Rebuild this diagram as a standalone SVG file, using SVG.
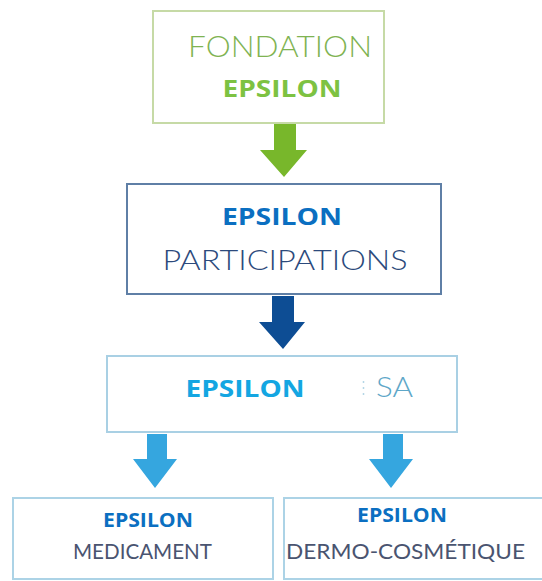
<svg xmlns="http://www.w3.org/2000/svg" width="542" height="581" viewBox="0 0 542 581">
<style>
.bold{font-family:"Open Sans","Liberation Sans",sans-serif;font-weight:700;}
.thin{font-family:Lato,"Open Sans","Liberation Sans",sans-serif;font-weight:300;}
.reg{font-family:Lato,"Open Sans","Liberation Sans",sans-serif;font-weight:400;}
.box{fill:#ffffff;stroke-width:2;}
</style>
<rect x="0" y="0" width="542" height="581" fill="#ffffff"/>
<g id="connectors">
  <path d="M274,124 H296 V150 H307 L284,177 L260,150 H274 Z" fill="#78b72b"/>
  <path d="M272,296 H294 V322 H305 L283,349 L259,322 H272 Z" fill="#0d4d94"/>
  <path d="M147,434 H167 V459 H177 L155,488 L133,459 H147 Z" fill="#35a6df"/>
  <path d="M383,434 H403 V459 H413 L391,488 L369,459 H383 Z" fill="#35a6df"/>
</g>
<g id="fondation">
  <rect class="box" x="153" y="11" width="231" height="112" stroke="#c6daa6"/>
  <text class="thin" x="280" y="57" font-size="29" fill="#7fb352" text-anchor="middle" textLength="184" lengthAdjust="spacingAndGlyphs">FONDATION</text>
  <text class="bold" x="282" y="97" font-size="24" fill="#7dc242" text-anchor="middle" textLength="119" lengthAdjust="spacingAndGlyphs">EPSILON</text>
</g>
<g id="participations">
  <rect class="box" x="127" y="184" width="314" height="110" stroke="#5f7fa6"/>
  <text class="bold" x="282" y="225" font-size="24" fill="#0b6fc1" text-anchor="middle" textLength="120" lengthAdjust="spacingAndGlyphs">EPSILON</text>
  <text class="thin" x="285" y="270" font-size="28" fill="#2c4a7c" text-anchor="middle" textLength="245" lengthAdjust="spacingAndGlyphs">PARTICIPATIONS</text>
</g>
<g id="sa">
  <rect class="box" x="107" y="356" width="350" height="76" stroke="#a9d0e4"/>
  <text class="bold" x="245" y="397" font-size="24" fill="#14a6e2" text-anchor="middle" textLength="119" lengthAdjust="spacingAndGlyphs">EPSILON</text>
  <line x1="363.5" y1="381" x2="363.5" y2="399" stroke="#b5d6e6" stroke-width="1.5" stroke-dasharray="2,4"/>
  <text class="thin" x="376" y="397" font-size="27" fill="#5ea7c8" textLength="37" lengthAdjust="spacingAndGlyphs">SA</text>
</g>
<g id="medicament">
  <rect class="box" x="13" y="498" width="260" height="81" stroke="#acd3e6"/>
  <text class="bold" x="148" y="527" font-size="19" fill="#0b6fc1" text-anchor="middle" textLength="90" lengthAdjust="spacingAndGlyphs">EPSILON</text>
  <text class="reg" x="142.5" y="559" font-size="22" fill="#4a5470" text-anchor="middle" textLength="139" lengthAdjust="spacingAndGlyphs">MEDICAMENT</text>
</g>
<g id="dermo">
  <rect class="box" x="284" y="498" width="270" height="81" stroke="#acd3e6"/>
  <text class="bold" x="402" y="522" font-size="19" fill="#0b6fc1" text-anchor="middle" textLength="90" lengthAdjust="spacingAndGlyphs">EPSILON</text>
  <text class="reg" x="286" y="559" font-size="22" fill="#4a5470" textLength="239" lengthAdjust="spacingAndGlyphs">DERMO-COSMÉTIQUE</text>
</g>
</svg>
